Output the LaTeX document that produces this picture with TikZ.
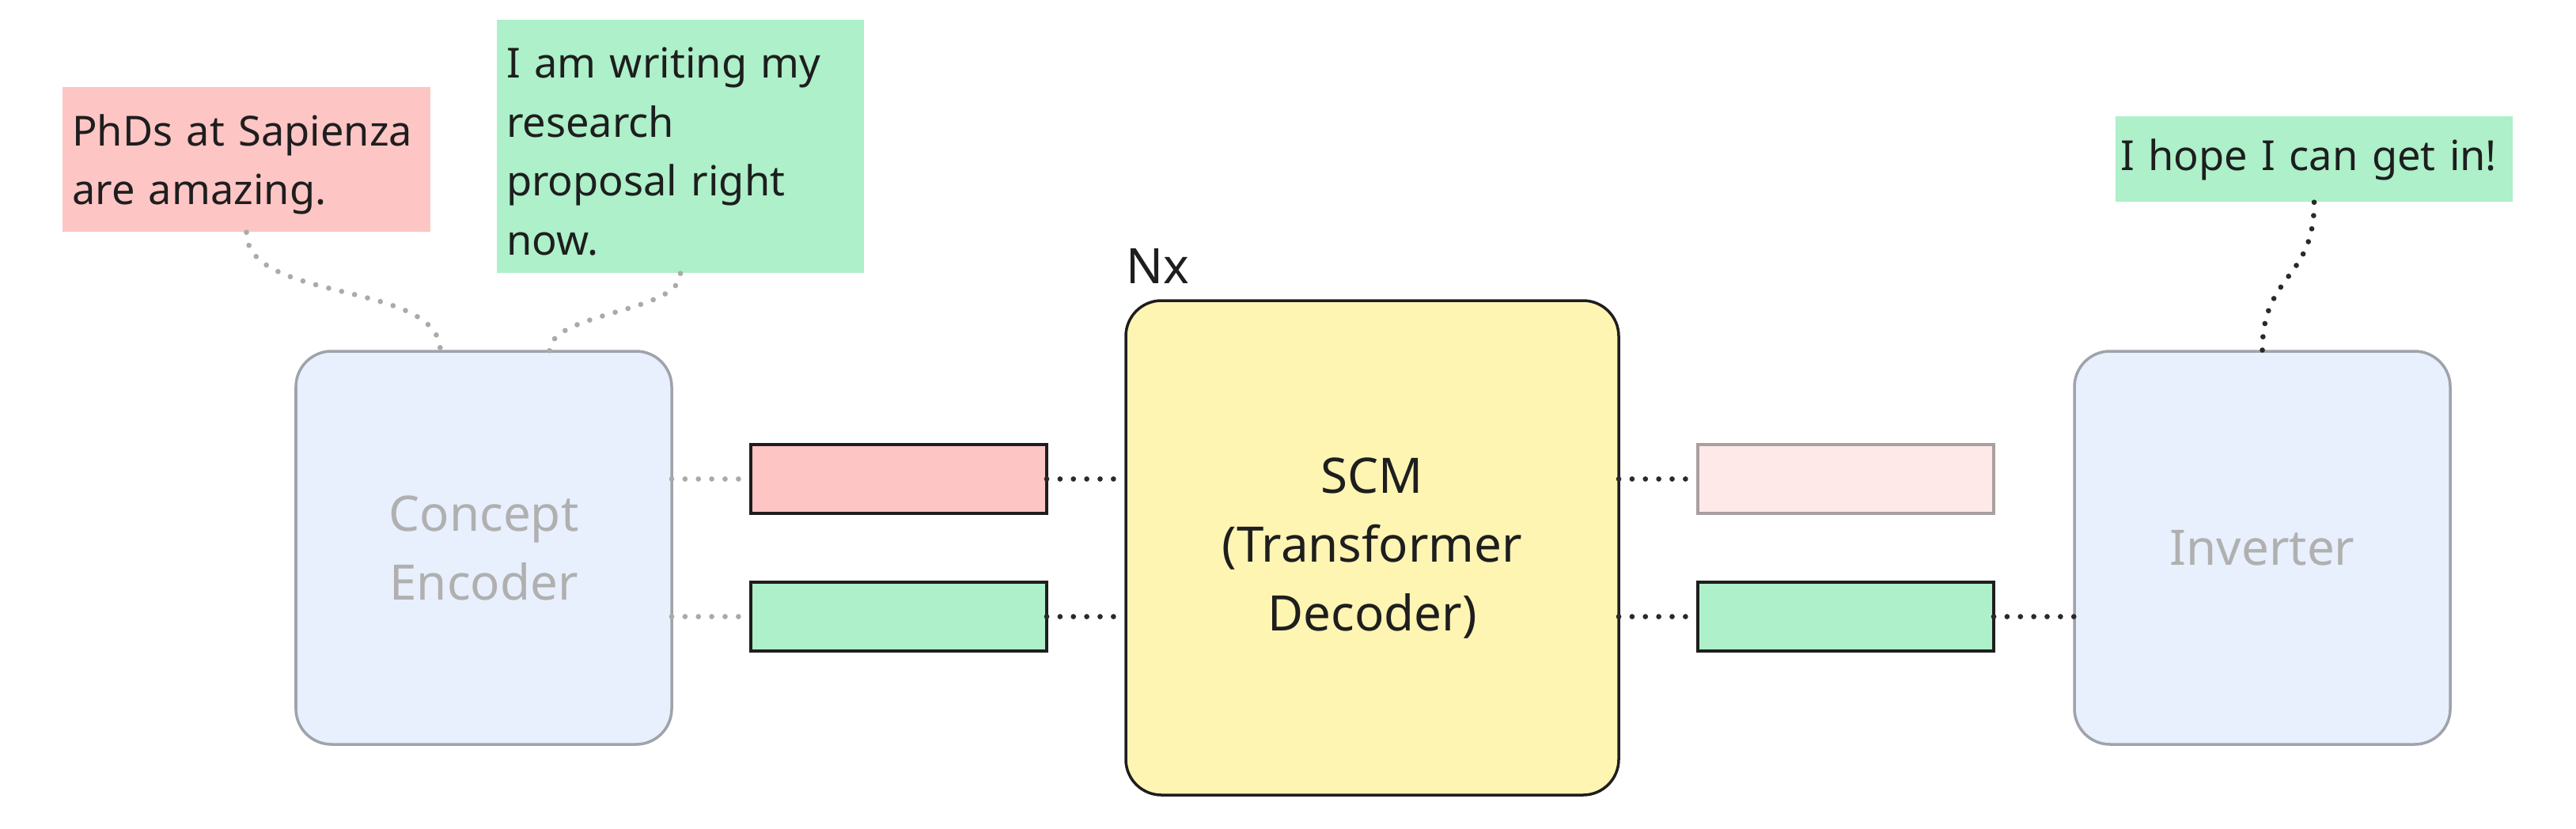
\documentclass[tikz,border=0pt]{standalone}
\usepackage{fontspec}
\setmainfont{Noto Sans}
\usepackage{tikz}
\usetikzlibrary{positioning}

\definecolor{encfill}{HTML}{E8EFFD}
\definecolor{encdraw}{HTML}{9FA3AA}
\definecolor{enctext}{HTML}{B0B0B0}
\definecolor{scmfill}{HTML}{FFF5B3}
\definecolor{inkdark}{HTML}{1E1E1E}
\definecolor{notepink}{HTML}{FEC5C5}
\definecolor{notegreen}{HTML}{ADF0C9}
\definecolor{palepink}{HTML}{FFE8E8}
\definecolor{paledraw}{HTML}{A8A0A0}
\definecolor{dotgray}{HTML}{AAAAAA}
\definecolor{dotdark}{HTML}{2A2A2A}

\newcommand{\mainsize}{\fontsize{17.6pt}{24.75pt}\selectfont}
\newcommand{\notesize}{\fontsize{14.9pt}{21.2pt}\selectfont}

\begin{document}
\begin{tikzpicture}[
    block/.style={rectangle, rounded corners=0.45cm, line width=1pt, outer sep=0pt, align=center, font=\mainsize},
    vecbar/.style={rectangle, minimum width=3.74cm, minimum height=0.87cm, line width=1.1pt, outer sep=0pt, draw=inkdark},
    notebox/.style={rectangle, inner xsep=0.12cm, inner ysep=0pt, align=left, font=\notesize, text=inkdark, execute at begin node=\strut},
    dots/.style={line width=1.9pt, line cap=round, dash pattern=on 0pt off 4.8pt}
  ]
  \useasboundingbox (0,0) rectangle (32.56,-10.47);

  % main chain
  \node[block, draw=encdraw, fill=encfill, text=enctext, minimum width=4.75cm, minimum height=4.97cm] (enc) at (6.115,-6.925) {Concept\\Encoder};
  \node[vecbar, fill=notepink, right=1cm of enc, yshift=0.87cm] (encpink) {};
  \node[vecbar, fill=notegreen, right=1cm of enc, yshift=-0.87cm] (encgreen) {};
  \node[block, draw=inkdark, fill=scmfill, text=inkdark, minimum width=6.23cm, minimum height=6.25cm, right=1cm of encpink, yshift=-0.87cm] (scm) {SCM\\(Transformer\\Decoder)};
  \node[vecbar, fill=palepink, draw=paledraw, right=1cm of scm, yshift=0.87cm] (decpink) {};
  \node[vecbar, fill=notegreen, right=1cm of scm, yshift=-0.87cm] (decgreen) {};
  \node[block, draw=encdraw, fill=encfill, text=enctext, minimum width=4.75cm, minimum height=4.97cm, right=1.02cm of decgreen, yshift=0.87cm] (inv) {Inverter};
  \node[anchor=base west, inner sep=0pt, font=\mainsize, text=inkdark] (nx) at ([yshift=0.22cm]scm.north west) {Nx};

  % notes
  \node[notebox, fill=notepink, text width=4.41cm, minimum height=1.83cm] (phds) at (3.115,-2.015) {PhDs at Sapienza\\are amazing.};
  \node[notebox, fill=notegreen, text width=4.40cm, minimum height=3.20cm] (proposal) at (8.60,-1.85) {I am writing my\\research\\proposal right\\now.};
  \node[notebox, fill=notegreen, inner xsep=0.06cm, text width=4.90cm, minimum height=1.08cm] (hope) at (29.25,-2.01) {I hope I can get in!};

  % links
  \draw[dots, dotgray] (encpink.west -| enc.east) -- (encpink.west);
  \draw[dots, dotgray] (encgreen.west -| enc.east) -- (encgreen.west);
  \draw[dots, dotdark] (encpink.east) -- (encpink.east -| scm.west);
  \draw[dots, dotdark] (encgreen.east) -- (encgreen.east -| scm.west);
  \draw[dots, dotdark] (decpink.west -| scm.east) -- (decpink.west);
  \draw[dots, dotdark] (decgreen.west -| scm.east) -- (decgreen.west);
  \draw[dots, dotdark] (decgreen.east) -- (decgreen.east -| inv.west);

  \draw[dots, dotgray] (phds.south) .. controls +(0,-0.9) and +(0,0.9) .. ([xshift=-0.55cm]enc.north);
  \draw[dots, dotgray] (proposal.south) .. controls +(0,-0.5) and +(0,0.5) .. ([xshift=0.83cm]enc.north);
  \draw[dots, dotdark] (hope.south) .. controls +(0,-1.0) and +(0,1.0) .. (inv.north);
\end{tikzpicture}
\end{document}
